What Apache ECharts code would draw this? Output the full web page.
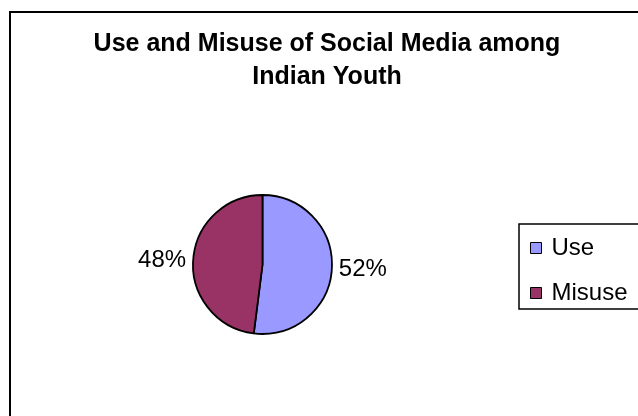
<!DOCTYPE html>
<html>
<head>
<meta charset="utf-8">
<style>
  html, body { margin: 0; padding: 0; background: #fff; }
  #chart { width: 638px; height: 416px; }
</style>
<script src="https://cdn.jsdelivr.net/npm/echarts@6/dist/echarts.min.js"></script>
</head>
<body>
<div id="chart"></div>
<script>
const titleText = 'Use and Misuse of Social Media among\nIndian Youth';
const categories = ['Use', 'Misuse'];
const values = [52, 48];
const colors = ['#9999FF', '#993366'];

const FONT = '"Liberation Sans", Arial, sans-serif';

const chart = echarts.init(document.getElementById('chart'), null, { renderer: 'canvas' });

const option = {
  backgroundColor: '#ffffff',
  animation: false,
  title: {
    text: titleText,
    left: 327,
    top: 28,
    padding: 0,
    textAlign: 'center',
    textStyle: {
      fontFamily: FONT,
      fontSize: 25,
      fontWeight: 'bold',
      color: '#000',
      lineHeight: 33
    }
  },
  legend: {
    orient: 'vertical',
    left: 519,
    top: 224,
    data: categories,
    icon: 'rect',
    itemWidth: 11,
    itemHeight: 11,
    itemGap: 21,
    padding: [12, 30, 4, 11],
    borderColor: '#000',
    borderWidth: 1.5,
    borderRadius: 0,
    itemStyle: { borderColor: '#000', borderWidth: 1 },
    textStyle: {
      fontFamily: FONT,
      fontSize: 24,
      color: '#000',
      padding: [0, 0, 0, 5]
    }
  },
  graphic: [{
    type: 'rect',
    silent: true,
    shape: { x: 10, y: 12, width: 800, height: 600 },
    style: { fill: 'none', stroke: '#000', lineWidth: 2 }
  }],
  series: [{
    type: 'pie',
    center: [262.5, 264.5],
    radius: 69.5,
    startAngle: 90,
    clockwise: true,
    avoidLabelOverlap: false,
    data: categories.map((c, i) => ({
      name: c,
      value: values[i],
      itemStyle: { color: colors[i] }
    })),
    itemStyle: { borderColor: '#000', borderWidth: 1.8 },
    label: {
      show: true,
      position: 'outside',
      formatter: p => Math.round(p.percent) + '%',
      fontFamily: FONT,
      fontSize: 24,
      color: '#000',
      distanceToLabelLine: 5
    },
    labelLine: { show: false, length: 2, length2: 0 },
    emphasis: { disabled: true }
  }]
};

chart.setOption(option);
</script>
</body>
</html>
